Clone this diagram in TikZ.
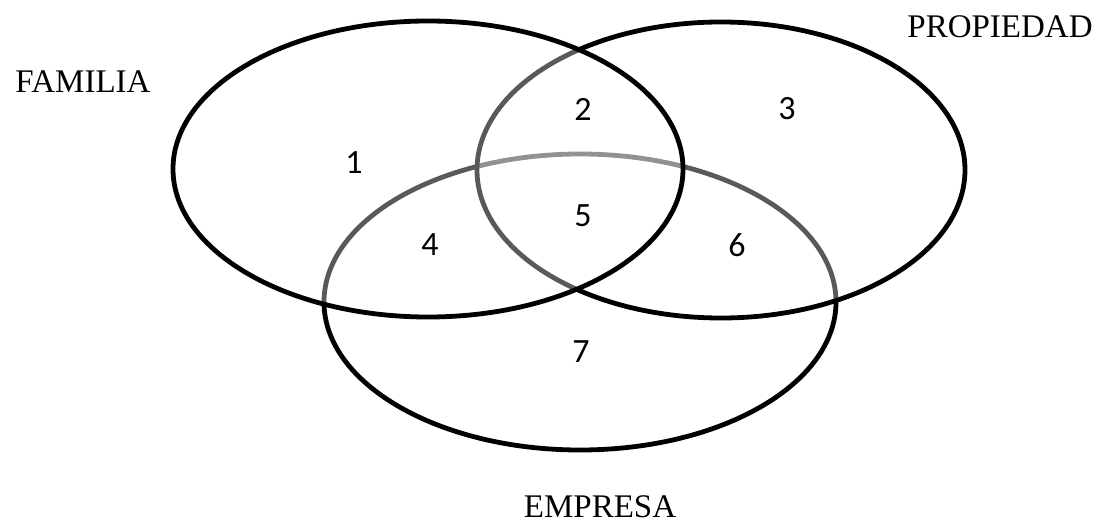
\documentclass[tikz,border=0pt]{standalone}
\usepackage{fontspec}
\setmainfont{Liberation Serif}
\newfontfamily\digitfont{Carlito}
\begin{document}
\begin{tikzpicture}[x=1pt,y=-1pt,
  setring/.style={draw=black,line width=4.8pt,fill=white,fill opacity=0.35},
  setname/.style={inner sep=0pt,font=\fontsize{33}{40}\selectfont},
  region/.style={inner sep=0pt,font=\digitfont\fontsize{34}{40}\selectfont}]
\useasboundingbox[fill=white] (0,0) rectangle (1098,524);
% the three sets, lowest first
\draw[setring] (580,302) ellipse [x radius=256pt, y radius=148pt];
\draw[setring] (721,170) ellipse [x radius=244pt, y radius=148pt];
\draw[setring] (428,169) ellipse [x radius=255pt, y radius=148pt];
% set names
\node[setname] (familia) at (83,82) {FAMILIA};
\node[setname] (propiedad) at (1000,27) {PROPIEDAD};
\node[setname] (empresa) at (600,507) {EMPRESA};
% region numbers
\node[region] (r1) at (354,163) {1};
\node[region] (r2) at (583,109) {2};
\node[region] (r3) at (787,109) {3};
\node[region] (r4) at (430,245) {4};
\node[region] (r5) at (583,216) {5};
\node[region] (r6) at (737,245) {6};
\node[region] (r7) at (581,352) {7};
\end{tikzpicture}
\end{document}
